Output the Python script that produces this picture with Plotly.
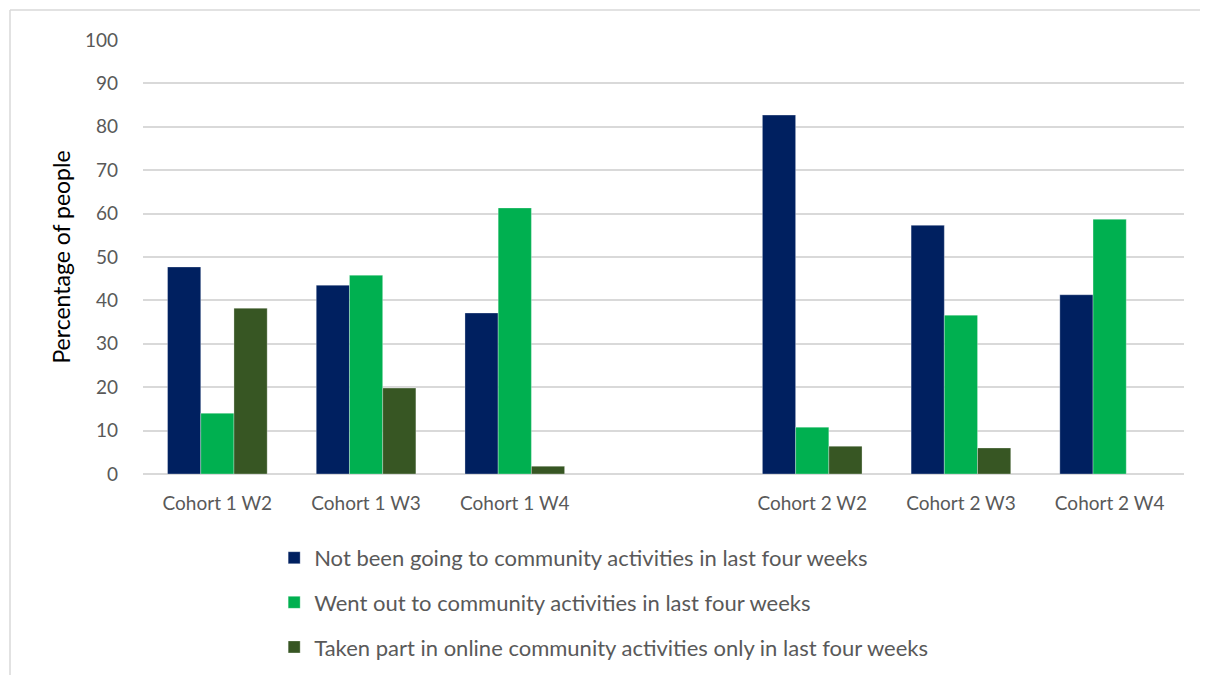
import plotly.graph_objects as go

categories = ["Cohort 1 W2", "Cohort 1 W3", "Cohort 1 W4", " ",
              "Cohort 2 W2", "Cohort 2 W3", "Cohort 2 W4"]
not_going = [47.7, 43.5, 37.1, None, 82.7, 57.3, 41.3]
went_out = [14.0, 45.8, 61.3, None, 10.8, 36.6, 58.7]
online_only = [38.2, 19.8, 1.8, None, 6.4, 6.0, None]

series = [
    ("Not been going to community activities in last four weeks", not_going, "#002060"),
    ("Went out to community activities in last four weeks", went_out, "#00B050"),
    ("Taken part in online community activities only in last four weeks", online_only, "#375623"),
]

font = "Lato, 'Open Sans', sans-serif"

fig = go.Figure()
for i, (name, vals, color) in enumerate(series):
    fig.add_trace(go.Bar(
        x=categories, y=vals, name=name, legendgroup=str(i),
        marker=dict(color=color, line=dict(color="rgba(255,255,255,0.5)", width=0.6)),
    ))

# plot area is 1041 x 434 px
fig.update_layout(
    width=1208, height=675,
    margin=dict(l=135, r=32, t=32, b=209),
    paper_bgcolor="white", plot_bgcolor="white",
    barmode="group", bargap=0.33, bargroupgap=0,
    font=dict(family=font, size=19, color="#595959"),
    showlegend=True,
    legend=dict(
        orientation="v", x=0.126, xanchor="left", y=-0.145, yanchor="top",
        font=dict(size=22, color="#595959"), tracegroupgap=13,
        itemwidth=30, traceorder="grouped",
    ),
    shapes=[
        dict(type="line", xref="paper", yref="paper",
             x0=-133 / 1041, x1=1.0 + 40 / 1041, y0=1 + 30 / 434, y1=1 + 30 / 434,
             line=dict(color="#D9D9D9", width=1.5)),
        dict(type="line", xref="paper", yref="paper",
             x0=-133 / 1041, x1=-133 / 1041, y0=1 + 30 / 434, y1=-220 / 434,
             line=dict(color="#D9D9D9", width=1.5)),
    ],
)
fig.update_xaxes(
    type="category", categoryorder="array", categoryarray=categories,
    showgrid=False, showline=False, ticks="",
    tickfont=dict(size=19, color="#595959"),
    ticklabelstandoff=16,
)
fig.update_yaxes(
    range=[0, 100], dtick=10, showgrid=True, gridcolor="#D9D9D9", gridwidth=1.5,
    zeroline=True, zerolinecolor="#D9D9D9", zerolinewidth=1.5,
    showline=False, ticks="",
    tickfont=dict(size=19, color="#595959"), ticklabelstandoff=24,
    title=dict(text="Percentage of people", font=dict(size=23, color="black"), standoff=7),
)

fig.write_html("out.html")
